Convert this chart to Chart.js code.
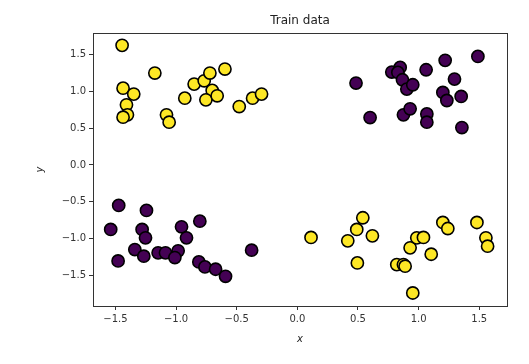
<!DOCTYPE html>
<html>
<head>
<meta charset="utf-8">
<script src="https://cdn.jsdelivr.net/npm/chart.js@4"></script>
<style>
  html, body { margin: 0; padding: 0; background: #fff; }
  #wrap { width: 529px; height: 364px; }
</style>
</head>
<body>
<div id="wrap"><canvas id="chart" width="529" height="364"></canvas></div>
<script>
// class 1 (yellow)
const yellowX = [-1.445, -1.437, -1.349, -1.409, -1.401, -1.437, -1.175, -1.079, -1.057, -0.928,
  -0.851, -0.768, -0.721, -0.597, -0.702, -0.754, -0.661, -0.479, -0.369, -0.295,
  0.113, 0.416, 0.490, 0.540, 0.619, 0.495, 0.820, 0.875, 0.889, 0.930,
  0.985, 1.040, 1.104, 0.952, 1.200, 1.241, 1.481, 1.555, 1.569];
const yellowY = [1.627, 1.045, 0.964, 0.818, 0.682, 0.650, 1.250, 0.682, 0.582, 0.909,
  1.100, 1.145, 1.250, 1.305, 1.014, 0.886, 0.941, 0.795, 0.909, 0.964,
  -0.986, -1.032, -0.877, -0.718, -0.964, -1.332, -1.355, -1.355, -1.377, -1.127,
  -0.991, -0.986, -1.214, -1.741, -0.782, -0.864, -0.782, -0.991, -1.105];

// class 0 (purple)
const purpleX = [0.484, 0.600, 0.779, 0.848, 0.829, 0.867, 0.903, 0.952, 0.875, 0.930,
  1.062, 1.068, 1.068, 1.219, 1.200, 1.233, 1.296, 1.351, 1.357, 1.489,
  -1.539, -1.473, -1.478, -1.340, -1.280, -1.252, -1.244, -1.266, -1.148, -1.087,
  -0.983, -1.010, -0.955, -0.914, -0.804, -0.812, -0.762, -0.674, -0.592, -0.377];
const purpleY = [1.114, 0.645, 1.264, 1.327, 1.259, 1.159, 1.032, 1.091, 0.682, 0.764,
  1.295, 0.695, 0.582, 1.423, 0.986, 0.877, 1.168, 0.932, 0.509, 1.477,
  -0.877, -0.550, -1.305, -1.150, -0.877, -0.991, -0.618, -1.241, -1.195, -1.195,
  -1.168, -1.259, -0.841, -0.991, -0.764, -1.318, -1.386, -1.418, -1.514, -1.159];

const xTicks = [-1.5, -1.0, -0.5, 0.0, 0.5, 1.0, 1.5];
const yTicks = [-1.5, -1.0, -0.5, 0.0, 0.5, 1.0, 1.5];

const titleText = "Train data";
const xLabel = "x";
const yLabel = "y";

function toPoints(xs, ys) {
  return xs.map((x, i) => ({ x: x, y: ys[i] }));
}

function fmt(v) {
  return v.toFixed(1).replace("-", "\u2212");
}

// frame + title + axis labels, like matplotlib
const decorations = {
  id: "decorations",
  afterDraw(chart) {
    const ctx = chart.ctx;
    const a = chart.chartArea;
    ctx.save();
    ctx.strokeStyle = "#333";
    ctx.lineWidth = 1;
    ctx.strokeRect(Math.round(a.left) + 0.5, Math.round(a.top) + 0.5,
      Math.round(a.right - a.left), Math.round(a.bottom - a.top));
    ctx.fillStyle = "#222";
    ctx.textAlign = "center";
    ctx.textBaseline = "middle";
    ctx.font = "12px 'DejaVu Sans'";
    ctx.fillText(titleText, (a.left + a.right) / 2, 21);
    ctx.font = "italic 10px 'DejaVu Sans'";
    ctx.fillText(xLabel, (a.left + a.right) / 2, 339);
    ctx.translate(40, (a.top + a.bottom) / 2);
    ctx.rotate(-Math.PI / 2);
    ctx.fillText(yLabel, 0, 0);
    ctx.restore();
  }
};

const tickFont = { family: "'DejaVu Sans'", size: 10 };

new Chart(document.getElementById("chart"), {
  type: "scatter",
  data: {
    datasets: [
      {
        data: toPoints(purpleX, purpleY),
        backgroundColor: "#440154",
        borderColor: "#000",
        borderWidth: 1.6,
        pointRadius: 6.1,
        pointHoverRadius: 6.1
      },
      {
        data: toPoints(yellowX, yellowY),
        backgroundColor: "#fde725",
        borderColor: "#000",
        borderWidth: 1.6,
        pointRadius: 6.1,
        pointHoverRadius: 6.1
      }
    ]
  },
  options: {
    responsive: false,
    animation: false,
    events: [],
    layout: { padding: { left: 0, top: 33, right: 22, bottom: 0 } },
    plugins: { legend: { display: false }, tooltip: { enabled: false }, title: { display: false } },
    scales: {
      x: {
        type: "linear",
        min: -1.685,
        max: 1.729,
        afterBuildTicks: (s) => { s.ticks = xTicks.map(v => ({ value: v })); },
        afterFit: (s) => { s.height = 58; },
        ticks: { callback: (v) => fmt(v), color: "#333", font: tickFont, padding: 3, maxRotation: 0 },
        grid: { drawOnChartArea: false, drawTicks: true, tickLength: 4, color: "#333" },
        border: { display: false }
      },
      y: {
        type: "linear",
        min: -1.918,
        max: 1.795,
        afterBuildTicks: (s) => { s.ticks = yTicks.map(v => ({ value: v })); },
        afterFit: (s) => { s.width = 93; },
        ticks: { callback: (v) => fmt(v), color: "#333", font: tickFont, padding: 3 },
        grid: { drawOnChartArea: false, drawTicks: true, tickLength: 4, color: "#333" },
        border: { display: false }
      }
    }
  },
  plugins: [decorations]
});
</script>
</body>
</html>
